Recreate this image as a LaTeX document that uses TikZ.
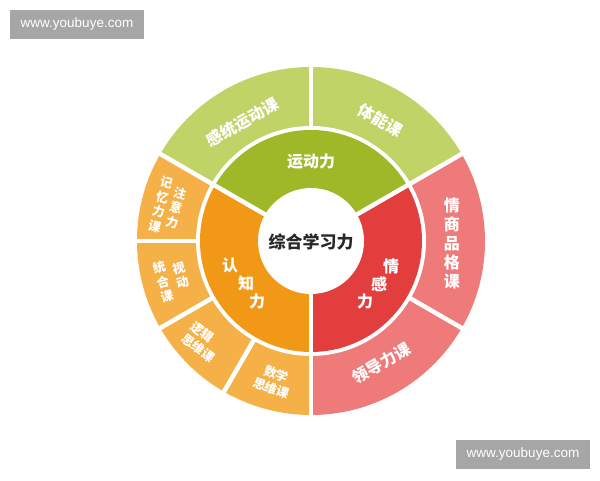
\documentclass[tikz,border=0pt]{standalone}
\usepackage{fontspec}
\setmainfont{Liberation Sans}
\newfontfamily\cjk{Noto Sans CJK SC}
\definecolor{gout}{RGB}{192,211,102}
\definecolor{gin}{RGB}{158,184,40}
\definecolor{oout}{RGB}{245,176,72}
\definecolor{oin}{RGB}{241,152,22}
\definecolor{rout}{RGB}{238,122,122}
\definecolor{rin}{RGB}{226,62,62}
\definecolor{wmgray}{RGB}{166,166,166}
\definecolor{coretext}{RGB}{40,40,40}
\begin{document}
\begin{tikzpicture}[x=1pt,y=1pt,
  sep/.style={white,line width=4.5pt},
  lbl/.style={text=white,inner sep=0pt,font=\cjk\bfseries\fontsize{16}{19}\selectfont,align=center},
  small/.style={text=white,inner sep=0pt,font=\cjk\bfseries\fontsize{12.5}{15}\selectfont,align=center},
  wm/.style={fill=wmgray,text=white,minimum width=134pt,minimum height=29pt,inner sep=0pt,font=\fontsize{13.5}{16}\selectfont}]
\useasboundingbox[fill=white] (0,0) rectangle (600,480);
\node[wm] (wm1) at (77,455.5) {www.youbuye.com};
\node[wm] (wm2) at (523,25.5) {www.youbuye.com};
\begin{scope}[shift={(311,239)}]
 % outer ring
 \fill[gout] (0,0) -- (30:174) arc[start angle=30,end angle=150,radius=174] -- cycle;
 \fill[oout] (0,0) -- (150:174) arc[start angle=150,end angle=270,radius=174] -- cycle;
 \fill[rout] (0,0) -- (-90:174) arc[start angle=-90,end angle=30,radius=174] -- cycle;
 \fill[white] (0,0) circle[radius=115];
 % inner ring
 \fill[gin] (0,0) -- (30:111) arc[start angle=30,end angle=150,radius=111] -- cycle;
 \fill[oin] (0,0) -- (150:111) arc[start angle=150,end angle=270,radius=111] -- cycle;
 \fill[rin] (0,0) -- (-90:111) arc[start angle=-90,end angle=30,radius=111] -- cycle;
 \fill[white] (0,0) circle[radius=53];
 % separators
 \foreach \a in {30,150,270} \draw[sep] (\a:50) -- (\a:178);
 \foreach \a in {90,-30,180,210,240} \draw[sep] (\a:112) -- (\a:178);
 % centre
 \node[text=coretext,inner sep=0pt,font=\cjk\bfseries\fontsize{17}{20}\selectfont] (core) at (0,-1) {综合学习力};
 % inner labels
 \node[lbl] (ydl) at (0,79) {运动力};
 \node[lbl] (rz1) at (-81,-24) {认};
 \node[lbl] (rz2) at (-65,-42) {知};
 \node[lbl] (rz3) at (-54,-60) {力};
 \node[lbl] (qg1) at (80,-25) {情};
 \node[lbl] (qg2) at (68,-43) {感};
 \node[lbl] (qg3) at (54,-60) {力};
 % outer labels
 \node[lbl,rotate=30] (gtyd) at (120:137) {感统运动课};
 \node[lbl,rotate=-30] (tn) at (60:139) {体能课};
 \node[lbl] (qspg) at (-1:141) {情\\商\\品\\格\\课};
 \node[lbl,rotate=30] (ldl) at (-60:141) {领导力课};
 \node[small,rotate=-15] (zyl) at (-135,33) {注\\意\\力};
 \node[small,rotate=-15] (jyl) at (-150.5,36.5) {记\\忆\\力\\课};
 \node[small,rotate=15] (sd) at (-130.5,-34.5) {视\\动};
 \node[small,rotate=15] (th) at (-148,-41) {统\\合\\课};
 \node[small,align=left,rotate=-38] (lj) at (-108,-101) {逻辑\\思维课};
 \node[small,rotate=-20] (sx) at (-37,-140) {数学\\思维课};
\end{scope}
\end{tikzpicture}
\end{document}
